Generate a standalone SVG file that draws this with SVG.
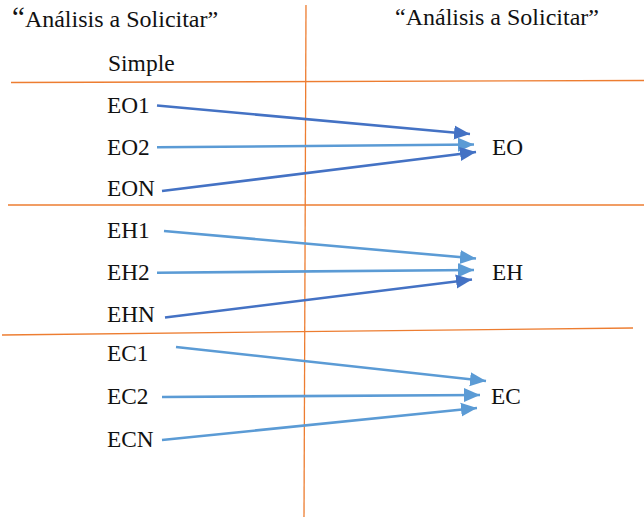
<svg xmlns="http://www.w3.org/2000/svg" width="644" height="517" viewBox="0 0 644 517">
<style>
.grid{stroke:#ED7D31;stroke-width:1.3;fill:none}
.dk{stroke:#4472C4;stroke-width:2.6;fill:none;marker-end:url(#ad)}
.lt{stroke:#5B9BD5;stroke-width:2.6;fill:none;marker-end:url(#al)}
</style>
<defs>
<marker id="ad" markerUnits="userSpaceOnUse" markerWidth="18" markerHeight="16" refX="16" refY="7" orient="auto" viewBox="0 0 18 14">
<path d="M0,0 L16,7 L0,14 Z" fill="#4472C4"/>
</marker>
<marker id="al" markerUnits="userSpaceOnUse" markerWidth="18" markerHeight="16" refX="16" refY="7" orient="auto" viewBox="0 0 18 14">
<path d="M0,0 L16,7 L0,14 Z" fill="#5B9BD5"/>
</marker>
</defs>
<rect width="644" height="517" fill="#fff"/>
<g id="grid">
<line class="grid" x1="306" y1="5" x2="304" y2="517"/>
<line class="grid" x1="11" y1="82.5" x2="644" y2="80.5"/>
<line class="grid" x1="8" y1="205" x2="644" y2="205"/>
<line class="grid" x1="2" y1="335" x2="633" y2="328"/>
</g>
<g id="labels" font-family="Liberation Serif, serif" font-size="23.3" fill="#111">
<g id="headers" font-size="24">
<text x="12" y="27"><tspan font-size="29">“</tspan>Análisis a Solicitar”</text>
<text x="395" y="25">“Análisis a Solicitar”</text>
<text x="108" y="71" font-size="23.5">Simple</text>
</g>
<g id="n-EO1"><text x="107" y="112.5">EO1</text></g>
<g id="n-EO2"><text x="107" y="154.5">EO2</text></g>
<g id="n-EON"><text x="107" y="196">EON</text></g>
<g id="n-EO"><text x="492" y="155">EO</text></g>
<g id="n-EH1"><text x="107" y="238">EH1</text></g>
<g id="n-EH2"><text x="107" y="280">EH2</text></g>
<g id="n-EHN"><text x="107" y="322">EHN</text></g>
<g id="n-EH"><text x="492" y="280">EH</text></g>
<g id="n-EC1"><text x="107" y="361">EC1</text></g>
<g id="n-EC2"><text x="107" y="404">EC2</text></g>
<g id="n-ECN"><text x="107" y="447">ECN</text></g>
<g id="n-EC"><text x="491" y="404">EC</text></g>
</g>
<g id="connectors">
<line class="dk" x1="157" y1="105.5" x2="470" y2="134"/>
<line class="lt" x1="157" y1="147.3" x2="474" y2="144.5"/>
<line class="dk" x1="162" y1="191" x2="476" y2="152"/>
<line class="lt" x1="164" y1="231" x2="476" y2="258.5"/>
<line class="lt" x1="157" y1="272.7" x2="474" y2="270"/>
<line class="dk" x1="165" y1="317.5" x2="472" y2="279.5"/>
<line class="lt" x1="176" y1="347" x2="486" y2="381"/>
<line class="lt" x1="162" y1="397" x2="480" y2="395"/>
<line class="lt" x1="162" y1="440" x2="477" y2="408"/>
</g>
</svg>
